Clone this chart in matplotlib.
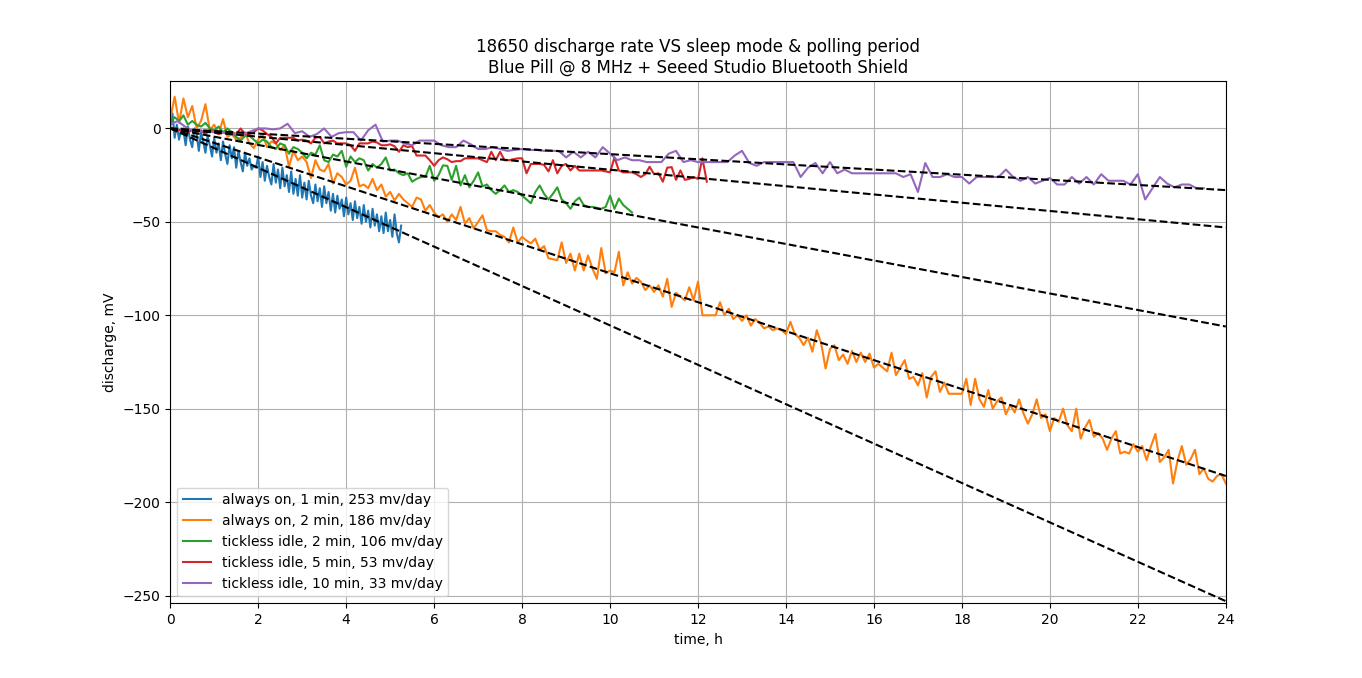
import numpy as np
import matplotlib
matplotlib.use("Agg")
import matplotlib.pyplot as plt

# sampling step of each series, hours
STEP_BLUE = 0.05
STEP = 0.1
STEP_PURPLE = 1 / 6

labels = [
    "always on, 1 min, 253 mv/day",
    "always on, 2 min, 186 mv/day",
    "tickless idle, 2 min, 106 mv/day",
    "tickless idle, 5 min, 53 mv/day",
    "tickless idle, 10 min, 33 mv/day",
]
rates = [253, 186, 106, 53, 33]  # mV per day, fitted slopes

blue = [
    1, 8, -5, 2, -6, 0, -1, -9, 1, -6,
    -10, 0, -3, -12, -2, -7, -13, -4, -9, -15,
    -5, -13, -8, -17, -7, -14, -19, -9, -16, -10,
    -21, -12, -18, -23, -13, -20, -16, -22, -20, -21,
    -15, -26, -18, -28, -20, -26, -30, -19, -29, -22,
    -32, -21, -31, -25, -34, -23, -35, -27, -36, -25,
    -37, -29, -38, -28, -36, -40, -30, -39, -32, -42,
    -31, -40, -34, -44, -35, -45, -36, -43, -38, -47,
    -37, -46, -40, -49, -39, -48, -42, -51, -41, -50,
    -44, -53, -43, -52, -46, -55, -47, -56, -45, -55,
    -49, -58, -46, -56, -61, -52,
]

orange = [
    5, 17, 3, 16, 6, 12, 0, 4, 13, -1,
    2, -3, 5, -4.5, -3, -6, -5, -2, -8, -10.5,
    -6, -3, -10, -7, -8, -11.5, -9, -20.5, -12, -17,
    -15, -18, -26.5, -17, -22, -23, -19, -29.5, -24, -26,
    -30, -28, -21, -31, -30, -32, -27, -33, -30, -36.5,
    -34, -38.5, -35, -38, -40, -42, -37, -38, -44, -41,
    -45, -47.5, -46, -50, -46, -49, -42, -51, -48, -53.5,
    -50, -46.5, -54.5, -55, -55, -57, -58, -61, -53, -61,
    -58, -60, -61.5, -59, -65, -63, -69.5, -70, -70.5, -61,
    -72, -67, -76, -67, -76, -68, -75, -80.5, -64, -77.5,
    -76, -77, -66, -84, -77, -83, -80, -82, -86.5, -84,
    -87.5, -84, -90, -80.5, -95.5, -88, -90, -92, -85, -92,
    -82, -100, -100, -100, -100, -93, -100, -96.5, -102, -100,
    -103, -100, -105.5, -102, -104, -107, -106, -108, -107, -108,
    -110, -103.5, -110, -112, -116, -112, -119.5, -108, -115, -128.5,
    -118, -116, -124, -121, -126, -119, -125, -120, -125, -120.5,
    -128, -126, -128, -130, -120, -132, -128, -124, -134, -133,
    -137.5, -131, -144, -133, -130, -141, -136, -142, -142, -142,
    -142, -134, -148, -134, -145, -149, -140, -150, -146, -144,
    -153, -148, -152, -145, -152.5, -158, -153, -145, -155, -153,
    -162, -155, -157, -150, -159, -162, -150, -166, -160, -156,
    -165, -163, -166, -172, -166, -162, -174, -173, -174, -169,
    -173, -170, -177.5, -170, -163.5, -178.5, -176, -172, -190, -178,
    -170, -180, -177, -172, -185, -182, -187.5, -189, -186, -185,
    -190,
]

green = [
    3, 6, 4, 7, 2, 4, 2, 1, 3, 0,
    -1, 1, -2, 0, -2, -4.5, -6.5, -4, -4, -6,
    -8, -6, -7, -10, -11, -8, -9, -13.5, -10, -11,
    -13, -16, -13, -14, -9, -17, -18, -14, -15, -12,
    -20.5, -15, -18, -16, -17, -22.5, -19, -21, -19, -15.5,
    -22.5, -22, -24, -25, -24, -28.5, -27, -26, -26, -20,
    -28, -25, -19.8, -20, -27.5, -20, -30.5, -25, -31.5, -28,
    -23.5, -31, -30, -33, -35, -33, -30.5, -34, -33, -34,
    -36, -38, -40, -34, -30.5, -35, -38, -35, -31.5, -38,
    -40, -43, -39, -37, -41, -42, -42, -42.5, -43, -42,
    -36, -43, -37.5, -41, -43, -45,
]

red = [
    0, -1, -1, 0, -2, -1, -2, -1, -3, -1,
    -2, -3, -2, -3, -2, -3, 0, -3, -3, -2,
    0, -1, -3, -4.5, -8, -5, -5, -5, -5, -6.5,
    -6, -6.5, -8, -5, -4.5, -8, -7, -6.5, -8, -8,
    -8, -9, -12, -8, -8, -8, -7, -7.5, -9, -9,
    -8.5, -9.5, -12.5, -9, -10, -9.5, -14.5, -14.5, -14.5, -17,
    -20, -17, -15.5, -16.5, -18, -17.5, -17.5, -16, -16, -16,
    -16, -17, -18, -12.5, -17, -12.5, -17, -17, -16.5, -16,
    -16, -24, -19, -19, -19, -19.5, -23, -17, -24, -20,
    -19, -22.5, -20, -22.5, -22.5, -22.5, -22.5, -22.5, -22.5, -23,
    -23.5, -15.5, -22.5, -23.5, -23.5, -23.5, -24.5, -26, -24.5, -20.5,
    -24.5, -24, -28.5, -21, -20.7, -27.5, -22.5, -27.5, -27, -26,
    -27, -16, -28.5,
]

purple = [
    2, 4, 1, -1, -1.5, -1.5, -2, -2, -2.5, -3,
    -3, -1.5, 0, 0, -0.5, 0, 2.5, -2.5, -1.5, -4.5,
    -3, 0, -4.5, -2.5, -2, -2, -6.5, -1, 2, -7,
    -6.5, -6.5, -8, -9, -6.5, -6.5, -6.5, -9, -10, -10,
    -6.5, -8.5, -11, -11, -10, -11, -12, -11.5, -11, -11.5,
    -11.5, -12, -12, -12, -15.5, -12.5, -15.5, -12.5, -15.5, -10,
    -13.5, -17, -15.5, -17, -17, -18, -18, -18, -13.5, -12,
    -18, -17, -18, -18, -18, -18, -18, -14.5, -12, -18.5,
    -20, -18, -18, -18, -18, -18, -26, -21, -18.5, -24,
    -18, -24, -22, -24, -24, -24, -24, -24, -24, -24,
    -26, -24.5, -34, -18.5, -26, -26, -24.5, -26, -26, -29.5,
    -26, -26, -26, -26, -22, -26, -28, -26, -29.5, -28,
    -26.5, -30, -30, -26, -29.5, -26, -30, -24.5, -28, -28,
    -28, -30, -24.5, -38, -32, -26, -29.5, -31.5, -30, -30,
    -32, -32,
]

series = [
    (blue, STEP_BLUE),
    (orange, STEP),
    (green, STEP),
    (red, STEP),
    (purple, STEP_PURPLE),
]

fig, ax = plt.subplots(figsize=(13.62, 6.78), dpi=100)

for (vals, step), lbl in zip(series, labels):
    t = np.arange(len(vals)) * step
    ax.plot(t, vals, label=lbl)

# linear fits, mV/day -> mV at 24 h
for r in rates:
    ax.plot([0, 24], [0, -r], "k--")

ax.set_title("18650 discharge rate VS sleep mode & polling period\n"
             "Blue Pill @ 8 MHz + Seeed Studio Bluetooth Shield")
ax.set_xlabel("time, h")
ax.set_ylabel("discharge, mV")
ax.set_xlim(0, 24)
ax.set_ylim(-254.2, 25.2)
ax.set_xticks(np.arange(0, 25, 2))
ax.grid(True)
ax.legend(loc="lower left")

fig.savefig("out.png", dpi=100)
